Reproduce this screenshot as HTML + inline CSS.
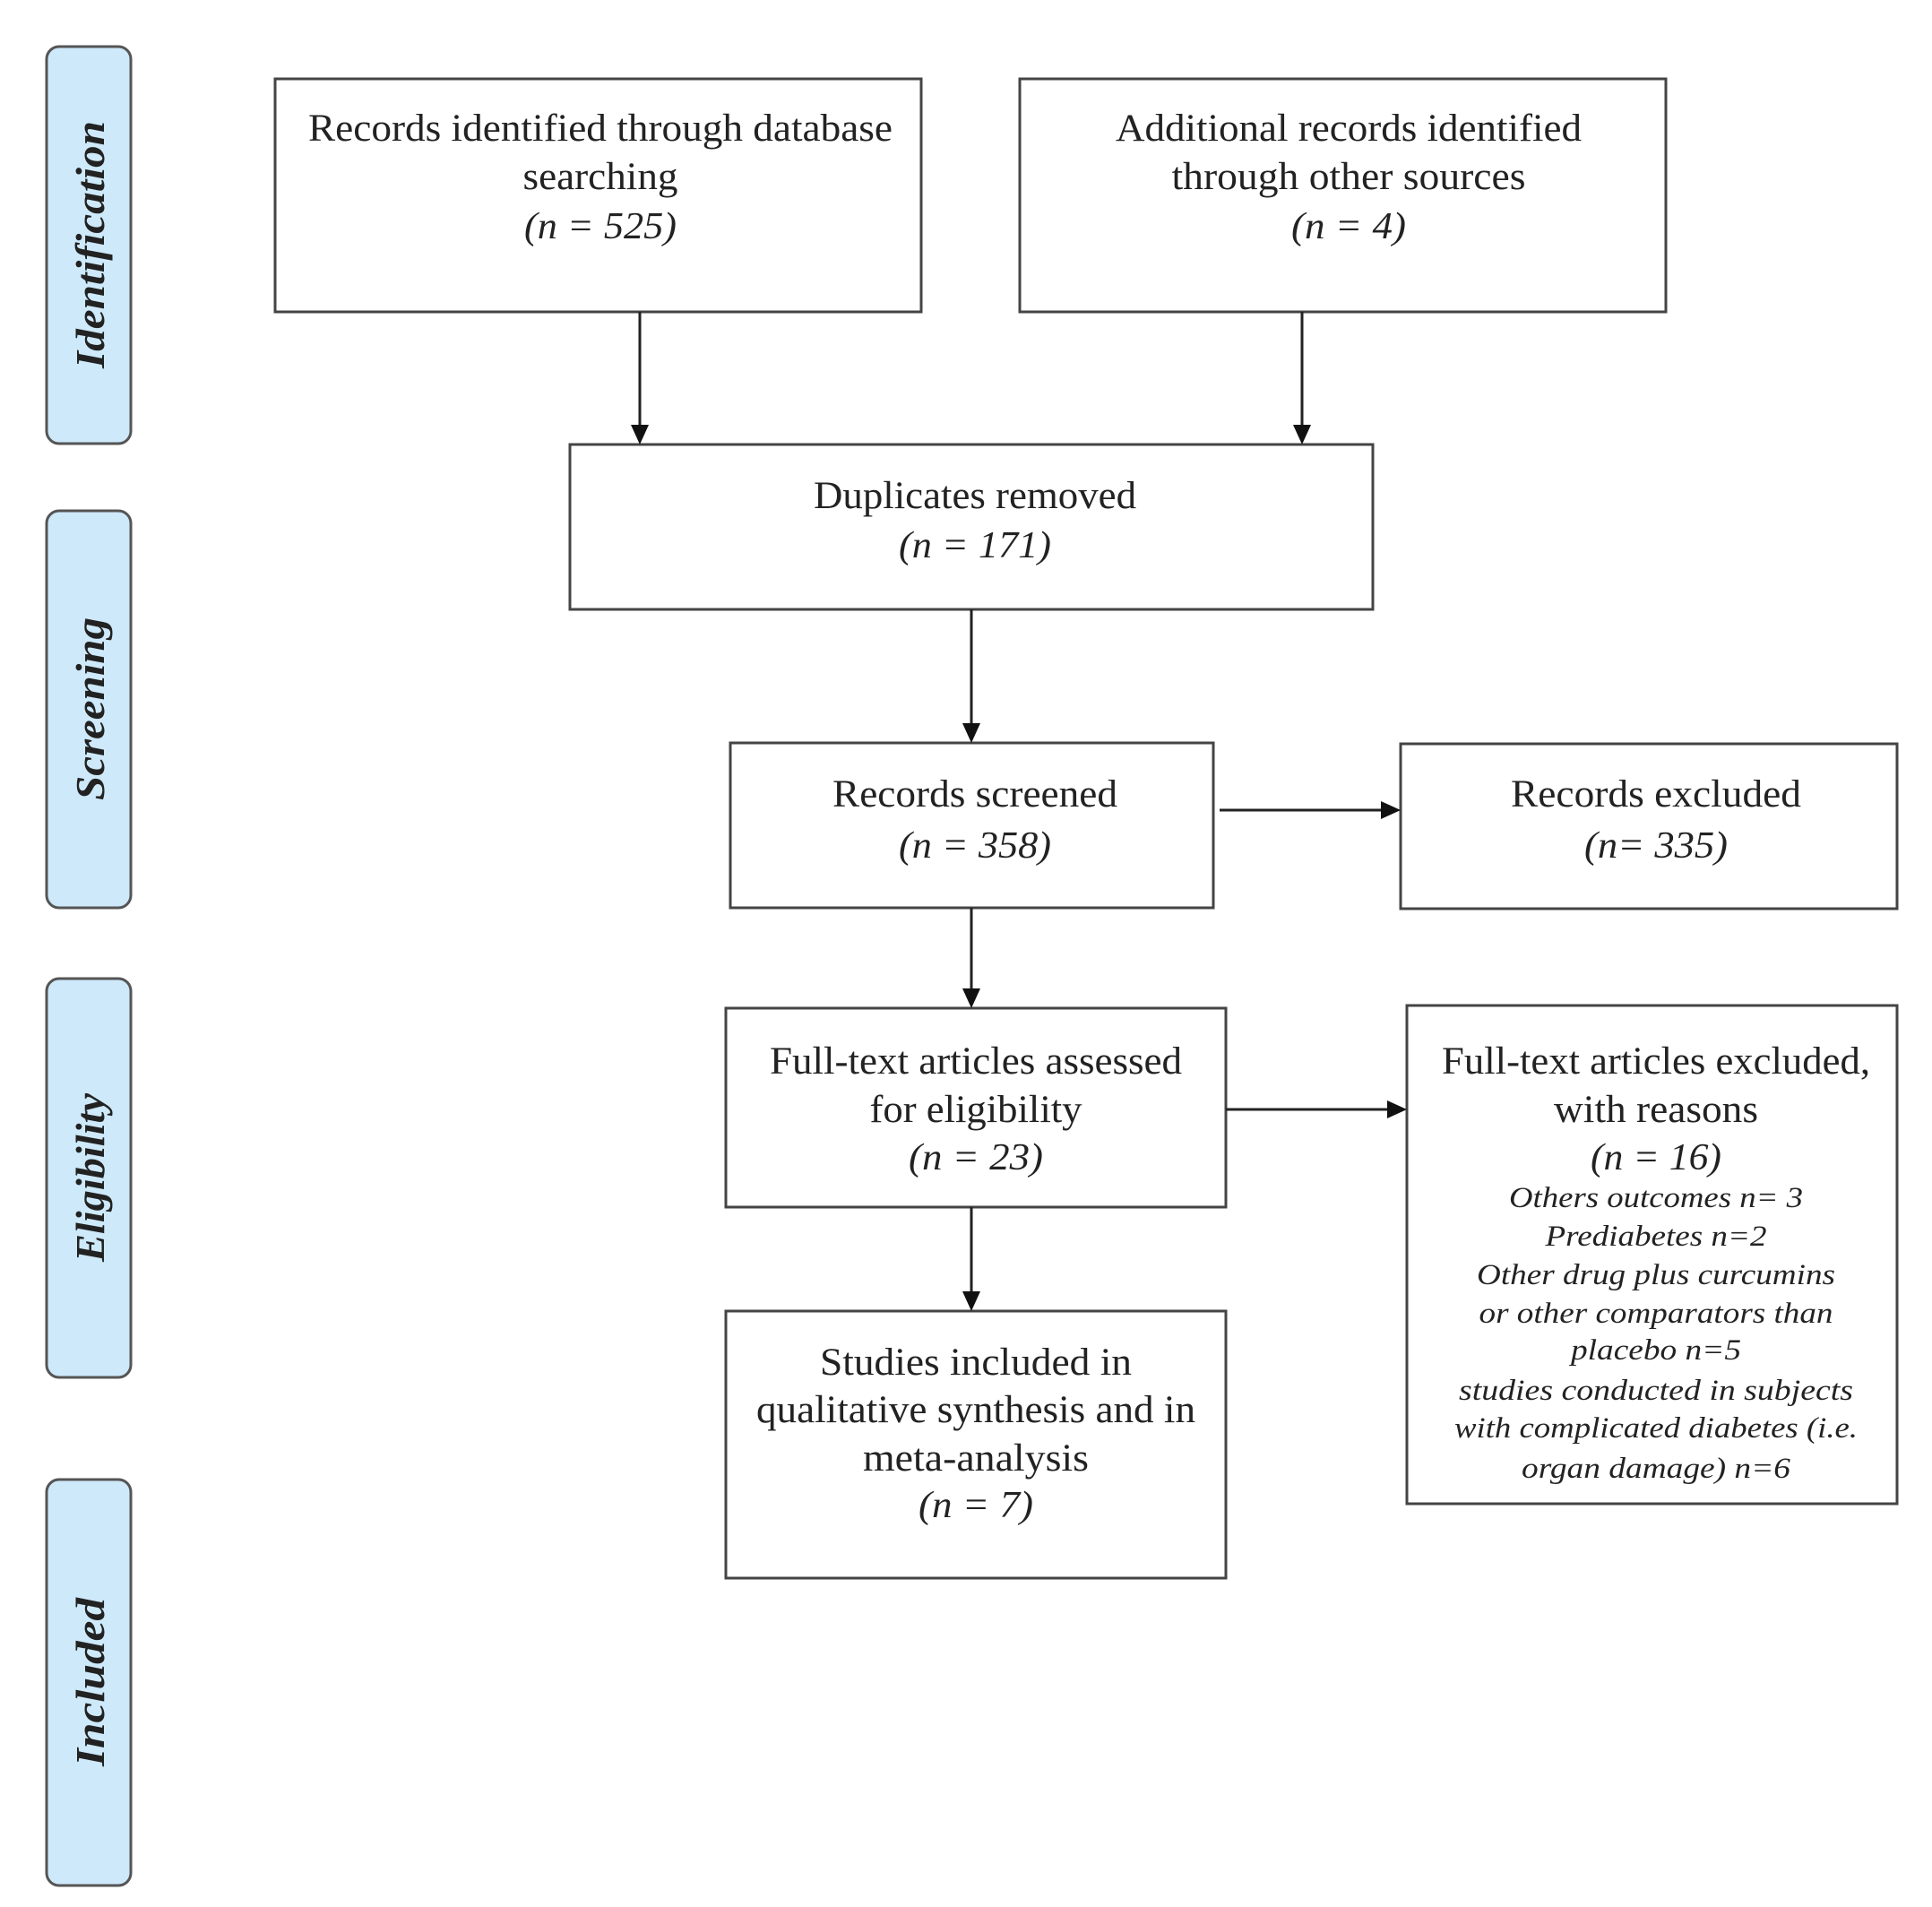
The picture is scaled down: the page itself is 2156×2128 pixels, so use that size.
<!DOCTYPE html>
<html><head><meta charset="utf-8"><style>
html,body{margin:0;padding:0;background:#fff;}
svg{display:block;}
text{font-family:"Liberation Serif",serif;fill:#222;}
.m{font-size:43px;}
.i{font-size:42px;font-style:italic;}
.s{font-size:33px;font-style:italic;}
.side{font-size:46px;font-style:italic;font-weight:bold;}
</style></head><body>
<svg width="2156" height="2128" viewBox="0 0 2156 2128" xmlns="http://www.w3.org/2000/svg">
<g fill="#cde9fa" stroke="#555" stroke-width="3">
<rect x="52" y="52" width="94" height="443" rx="14"/>
<rect x="52" y="570" width="94" height="443" rx="14"/>
<rect x="52" y="1092" width="94" height="445" rx="14"/>
<rect x="52" y="1651" width="94" height="453" rx="14"/>
</g>
<text class="side" text-anchor="middle" transform="translate(116,273) rotate(-90)" textLength="276" lengthAdjust="spacingAndGlyphs">Identification</text>
<text class="side" text-anchor="middle" transform="translate(116,791) rotate(-90)" textLength="204" lengthAdjust="spacingAndGlyphs">Screening</text>
<text class="side" text-anchor="middle" transform="translate(116,1314) rotate(-90)" textLength="188" lengthAdjust="spacingAndGlyphs">Eligibility</text>
<text class="side" text-anchor="middle" transform="translate(116,1877) rotate(-90)" textLength="188" lengthAdjust="spacingAndGlyphs">Included</text>
<g fill="#fff" stroke="#444" stroke-width="3">
<rect x="307" y="88" width="721" height="260"/>
<rect x="1138" y="88" width="721" height="260"/>
<rect x="636" y="496" width="896" height="184"/>
<rect x="815" y="829" width="539" height="184"/>
<rect x="1563" y="830" width="554" height="184"/>
<rect x="810" y="1125" width="558" height="222"/>
<rect x="1570" y="1122" width="547" height="556"/>
<rect x="810" y="1463" width="558" height="298"/>
</g>
<g stroke="#222" stroke-width="3">
<line x1="714" y1="348" x2="714" y2="478"/>
<line x1="1453" y1="348" x2="1453" y2="478"/>
<line x1="1084" y1="680" x2="1084" y2="811"/>
<line x1="1084" y1="1013" x2="1084" y2="1107"/>
<line x1="1084" y1="1347" x2="1084" y2="1445"/>
<line x1="1361" y1="904" x2="1545" y2="904"/>
<line x1="1368" y1="1238" x2="1552" y2="1238"/>
</g>
<g fill="#111">
<polygon points="704,474 724,474 714,496"/>
<polygon points="1443,474 1463,474 1453,496"/>
<polygon points="1074,807 1094,807 1084,829"/>
<polygon points="1074,1103 1094,1103 1084,1125"/>
<polygon points="1074,1441 1094,1441 1084,1463"/>
<polygon points="1541,894 1541,914 1563,904"/>
<polygon points="1548,1228 1548,1248 1570,1238"/>
</g>
<g text-anchor="middle">
<text class="m" x="670" y="157" textLength="652" lengthAdjust="spacingAndGlyphs">Records identified through database</text>
<text class="m" x="670" y="211" textLength="173" lengthAdjust="spacingAndGlyphs">searching</text>
<text class="i" x="670" y="266" textLength="170" lengthAdjust="spacingAndGlyphs">(n = 525)</text>
<text class="m" x="1505" y="157" textLength="520" lengthAdjust="spacingAndGlyphs">Additional records identified</text>
<text class="m" x="1505" y="211" textLength="395" lengthAdjust="spacingAndGlyphs">through other sources</text>
<text class="i" x="1505" y="266" textLength="128" lengthAdjust="spacingAndGlyphs">(n = 4)</text>
<text class="m" x="1088" y="567" textLength="360" lengthAdjust="spacingAndGlyphs">Duplicates removed</text>
<text class="i" x="1088" y="622" textLength="170" lengthAdjust="spacingAndGlyphs">(n = 171)</text>
<text class="m" x="1088" y="900" textLength="318" lengthAdjust="spacingAndGlyphs">Records screened</text>
<text class="i" x="1088" y="957" textLength="170" lengthAdjust="spacingAndGlyphs">(n = 358)</text>
<text class="m" x="1848" y="900" textLength="324" lengthAdjust="spacingAndGlyphs">Records excluded</text>
<text class="i" x="1848" y="957" textLength="160" lengthAdjust="spacingAndGlyphs">(n= 335)</text>
<text class="m" x="1089" y="1198" textLength="460" lengthAdjust="spacingAndGlyphs">Full-text articles assessed</text>
<text class="m" x="1089" y="1252" textLength="237" lengthAdjust="spacingAndGlyphs">for eligibility</text>
<text class="i" x="1089" y="1305" textLength="150" lengthAdjust="spacingAndGlyphs">(n = 23)</text>
<text class="m" x="1848" y="1198" textLength="478" lengthAdjust="spacingAndGlyphs">Full-text articles excluded,</text>
<text class="m" x="1848" y="1252" textLength="228" lengthAdjust="spacingAndGlyphs">with reasons</text>
<text class="i" x="1848" y="1305" textLength="146" lengthAdjust="spacingAndGlyphs">(n = 16)</text>
<text class="s" x="1848" y="1347" textLength="328" lengthAdjust="spacingAndGlyphs">Others outcomes n= 3</text>
<text class="s" x="1848" y="1390" textLength="247" lengthAdjust="spacingAndGlyphs">Prediabetes n=2</text>
<text class="s" x="1848" y="1433" textLength="400" lengthAdjust="spacingAndGlyphs">Other drug plus curcumins</text>
<text class="s" x="1848" y="1476" textLength="395" lengthAdjust="spacingAndGlyphs">or other comparators than</text>
<text class="s" x="1848" y="1517" textLength="190" lengthAdjust="spacingAndGlyphs">placebo n=5</text>
<text class="s" x="1848" y="1562" textLength="440" lengthAdjust="spacingAndGlyphs">studies conducted in subjects</text>
<text class="s" x="1848" y="1604" textLength="450" lengthAdjust="spacingAndGlyphs">with complicated diabetes (i.e.</text>
<text class="s" x="1848" y="1649" textLength="300" lengthAdjust="spacingAndGlyphs">organ damage) n=6</text>
<text class="m" x="1089" y="1534" textLength="348" lengthAdjust="spacingAndGlyphs">Studies included in</text>
<text class="m" x="1089" y="1587" textLength="490" lengthAdjust="spacingAndGlyphs">qualitative synthesis and in</text>
<text class="m" x="1089" y="1641" textLength="252" lengthAdjust="spacingAndGlyphs">meta-analysis</text>
<text class="i" x="1089" y="1693" textLength="128" lengthAdjust="spacingAndGlyphs">(n = 7)</text>
</g>
</svg>
</body></html>
